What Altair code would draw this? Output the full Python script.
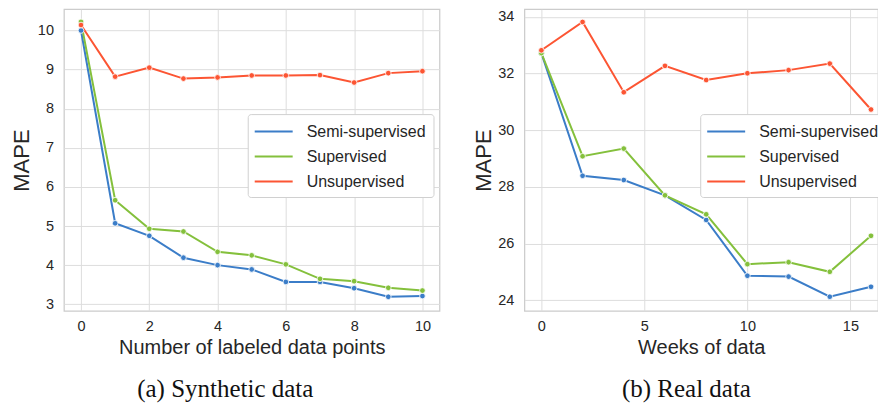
import altair as alt
import pandas as pd

# ---- data ----
syn_x = [0, 1, 2, 3, 4, 5, 6, 7, 8, 9, 10]
syn_semi = [10.0, 5.07, 4.75, 4.19, 4.00, 3.89, 3.57, 3.57, 3.41, 3.19, 3.21]
syn_sup = [10.22, 5.66, 4.93, 4.86, 4.34, 4.25, 4.02, 3.65, 3.59, 3.42, 3.35]
syn_unsup = [10.14, 8.82, 9.05, 8.77, 8.80, 8.85, 8.85, 8.86, 8.67, 8.91, 8.96]

real_x = [0, 2, 4, 6, 8, 10, 12, 14, 16]
real_semi = [32.72, 28.39, 28.24, 27.70, 26.83, 24.86, 24.83, 24.12, 24.47]
real_sup = [32.72, 29.08, 29.35, 27.70, 27.03, 25.27, 25.34, 25.00, 26.27]
real_unsup = [32.82, 33.82, 31.34, 32.27, 31.77, 32.01, 32.12, 32.35, 30.73]

series = ["Semi-supervised", "Supervised", "Unsupervised"]
colors = ["#3b7dc8", "#84c03c", "#fc5533"]

syn_xticks = [0, 2, 4, 6, 8, 10]
syn_yticks = [3, 4, 5, 6, 7, 8, 9, 10]
real_xticks = [0, 5, 10, 15]
real_yticks = [24, 26, 28, 30, 32, 34]


def long_table(xs, ys_list):
    rows = []
    for name, ys in zip(series, ys_list):
        for x, y in zip(xs, ys):
            rows.append({"x": x, "y": y, "method": name})
    return pd.DataFrame(rows)


SANS = "Liberation Sans"
SERIF = "Liberation Serif"
TXT = "#262626"


def panel(df, xtitle, xdom, xticks, ydom, yticks, width, caption, dx, ytp, lx):
    color = alt.Color(
        "method:N",
        scale=alt.Scale(domain=series, range=colors),
        legend=alt.Legend(
            title=None,
            orient="none",
            legendX=lx,
            legendY=105,
            symbolType="M-2,0H2",
            symbolSize=361,
            symbolStrokeWidth=2,
            symbolOffset=8.5,
            labelFont=SANS,
            labelFontSize=16,
            labelColor=TXT,
            labelOffset=22.5,
            fillColor="white",
            strokeColor="#d0d0d0",
            cornerRadius=3,
            padding=7,
            rowPadding=6,
        ),
    )
    x = alt.X(
        "x:Q",
        title=xtitle,
        scale=alt.Scale(domain=xdom, nice=False, zero=False),
        axis=alt.Axis(values=xticks, format="d", labelPadding=9, titlePadding=4.5),
    )
    y = alt.Y(
        "y:Q",
        title="MAPE",
        scale=alt.Scale(domain=ydom, nice=False, zero=False),
        axis=alt.Axis(values=yticks, format="d", labelPadding=10.5, titlePadding=ytp),
    )
    base = alt.Chart(df).encode(x=x, y=y, color=color)
    lines = base.mark_line(strokeWidth=2)
    pts = base.mark_point(filled=True, size=32, stroke="white", strokeWidth=0.8, opacity=1)
    return alt.layer(lines, pts).properties(
        width=width,
        height=302,
        title=alt.TitleParams(
            caption,
            orient="bottom",
            anchor="middle",
            frame="bounds",
            font=SERIF,
            fontSize=25,
            fontWeight="normal",
            color="#111111",
            offset=19,
            dx=dx,
        ),
    )


left = panel(long_table(syn_x, [syn_semi, syn_sup, syn_unsup]),
             "Number of labeled data points", [-0.5, 10.5], syn_xticks,
             [2.83, 10.544], syn_yticks, 376, "(a) Synthetic data", 0, 3.4, 184)
right = panel(long_table(real_x, [real_semi, real_sup, real_unsup]),
              "Weeks of data", [-0.824, 16.34], real_xticks,
              [23.62, 34.27], real_yticks, 354, "(b) Real data", 7, 2.4, 176)

# negative right padding crops the right edge like the reference image
chart = alt.hconcat(left, right, spacing=31).resolve_scale(color="independent").properties(
    padding={"left": 2, "top": 0, "right": -10, "bottom": 0}
).configure_view(
    stroke="#cccccc", strokeWidth=1.25
).configure_axis(
    grid=True,
    gridColor="#dddddd",
    gridWidth=1,
    domain=False,
    ticks=False,
    labelFont=SANS,
    labelFontSize=14.5,
    labelColor=TXT,
    titleFont=SANS,
    titleFontWeight="normal",
    titleColor=TXT,
).configure_axisX(
    titleFontSize=20
).configure_axisY(
    titleFontSize=22
)

chart.save("out.html", embed_options={"renderer": "svg", "actions": False})
